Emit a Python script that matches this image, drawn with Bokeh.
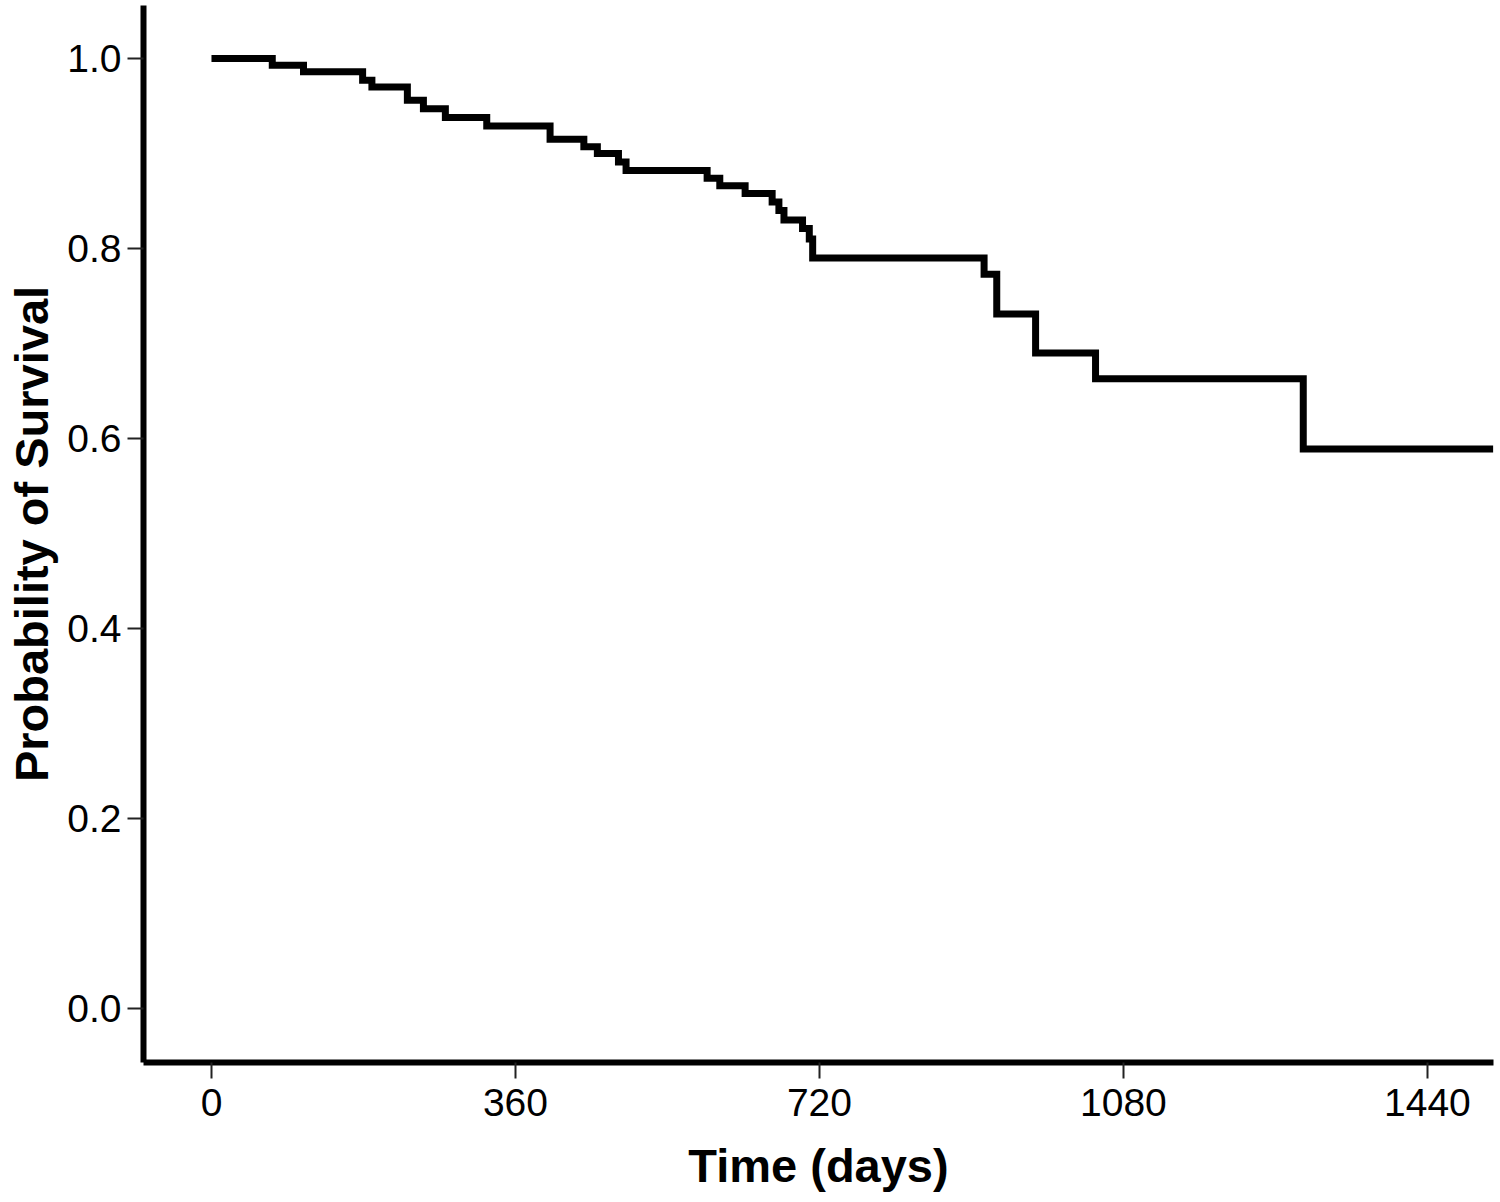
from bokeh.plotting import figure
from bokeh.models import Range1d, FixedTicker, NumeralTickFormatter
from bokeh.embed import file_html
from bokeh.resources import INLINE

# Kaplan-Meier step data (time in days, survival probability)
times = [0, 72, 109, 179, 190, 232, 251, 277, 326, 401, 441, 457, 482, 491,
         587, 602, 632, 664, 672, 678, 700, 708, 712, 915, 930, 976, 1047, 1293, 1518]
surv = [1.0, 0.993, 0.986, 0.977, 0.970, 0.956, 0.947, 0.938, 0.929, 0.915, 0.907,
        0.900, 0.891, 0.882, 0.874, 0.866, 0.858, 0.849, 0.840, 0.830, 0.821, 0.810,
        0.790, 0.773, 0.731, 0.690, 0.663, 0.589, 0.589]

x_ticks = [0, 360, 720, 1080, 1440]
y_ticks = [0.0, 0.2, 0.4, 0.6, 0.8, 1.0]

p = figure(width=1500, height=1202, output_backend="svg", toolbar_location=None,
           x_range=Range1d(-80.5, 1518.3), y_range=Range1d(-0.05684, 1.05579),
           min_border_left=143, min_border_right=7, min_border_top=5,
           min_border_bottom=140)

p.step(x=times, y=surv, mode="after", line_width=7, line_color="black",
       line_join="miter")

p.grid.visible = False
p.outline_line_color = None
p.background_fill_color = "white"
p.border_fill_color = "white"

for ax in (p.xaxis[0], p.yaxis[0]):
    ax.axis_line_width = 6
    ax.axis_line_color = "black"
    ax.major_tick_line_width = 2
    ax.major_tick_line_color = "#222222"
    ax.major_tick_out = 16
    ax.major_tick_in = 0
    ax.minor_tick_line_color = None
    ax.major_label_text_font = "Liberation Sans"
    ax.major_label_text_font_size = "39px"
    ax.major_label_text_color = "black"
    ax.axis_label_text_font = "Liberation Sans"
    ax.axis_label_text_font_size = "47px"
    ax.axis_label_text_font_style = "bold"
    ax.axis_label_text_color = "black"

p.xaxis[0].ticker = FixedTicker(ticks=x_ticks)
p.yaxis[0].ticker = FixedTicker(ticks=y_ticks)
p.yaxis[0].formatter = NumeralTickFormatter(format="0.0")
p.xaxis[0].axis_label = "Time (days)"
p.yaxis[0].axis_label = "Probability of Survival"
p.xaxis[0].major_label_standoff = 10
p.yaxis[0].major_label_standoff = 6
p.xaxis[0].axis_label_standoff = 20
p.yaxis[0].axis_label_standoff = 6

open("out.html", "w").write(file_html(p, INLINE))
